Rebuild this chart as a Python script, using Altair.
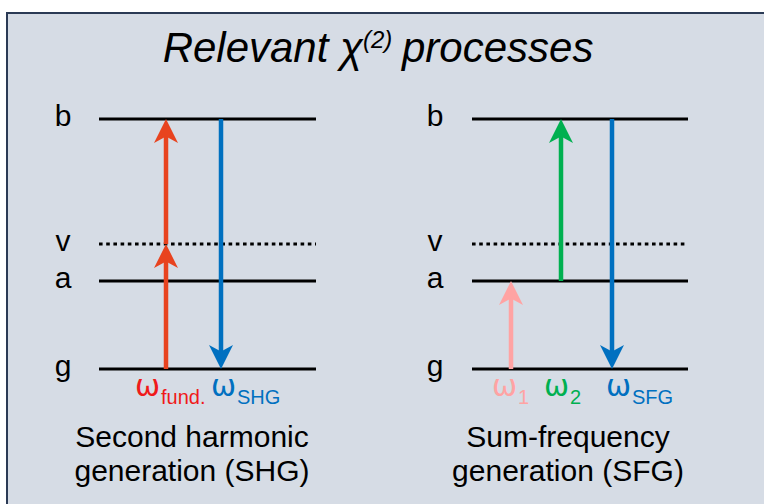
import altair as alt
import pandas as pd

# Energy levels, in units of the b level above g
level_names = ["g", "a", "v", "b"]
level_energy = [0.0, 0.352, 0.5, 1.0]
level_virtual = [False, False, True, False]

# Two diagrams side by side: extent of the level lines and label column
panel_names = ["SHG", "SFG"]
panel_left = [99, 472]
panel_right = [316, 688]
panel_label_x = [63, 435]
panel_center = [192, 568]
caption_line1 = ["Second harmonic", "Sum-frequency"]
caption_line2 = ["generation (SHG)", "generation (SFG)"]

# Optical transitions (arrows)
tr_x = [166, 166, 221, 511, 561, 612]
tr_from = ["g", "v", "b", "g", "a", "b"]
tr_to = ["v", "b", "g", "a", "b", "g"]
tr_color = ["#E8431F", "#E8431F", "#0070C0", "#FFA3A3", "#00B050", "#0070C0"]

# Frequency labels under the arrows: symbol + subscript
om_anchor = [161, 237, 518, 570, 632]
om_sub = ["fund.", "SHG", "1", "2", "SFG"]
om_color = ["#F01A1A", "#0070C0", "#FFA3A3", "#00B050", "#0070C0"]

E = dict(zip(level_names, level_energy))

levels = pd.DataFrame([
    {"panel": p, "x": l, "x2": r, "lx": lx, "name": n, "energy": e, "virtual": v}
    for p, l, r, lx in zip(panel_names, panel_left, panel_right, panel_label_x)
    for n, e, v in zip(level_names, level_energy, level_virtual)
])
trans = pd.DataFrame({
    "x": tr_x,
    "e0": [E[k] for k in tr_from],
    "e1": [E[k] for k in tr_to],
    "color": tr_color,
})
trans["dir"] = ["up" if b > a else "down" for a, b in zip(trans.e0, trans.e1)]
omegas = pd.DataFrame({"x": om_anchor, "sub": om_sub, "color": om_color, "energy": 0.0})
captions = pd.DataFrame({"x": panel_center, "l1": caption_line1, "l2": caption_line2})

W, H = 764, 504
xs = alt.Scale(domain=[0, W], nice=False, zero=False)
ys = alt.Scale(domain=[-0.54, 1.476], nice=False, zero=False)
FONT = "Liberation Sans"

X = lambda f: alt.X(f, type="quantitative", scale=xs, axis=None)
Y = lambda f: alt.Y(f, type="quantitative", scale=ys, axis=None)

frame = alt.Chart(pd.DataFrame({"k": [0]})).mark_rect(
    fill="#D6DCE5", stroke="#2B3A55", strokeWidth=2
).encode(x=alt.value(7), x2=alt.value(W + 20), y=alt.value(13), y2=alt.value(H + 20))

base_lv = alt.Chart(levels)
solid = base_lv.transform_filter("!datum.virtual").mark_rule(
    color="black", strokeWidth=3
).encode(x=X("x"), x2="x2", y=Y("energy"))
dotted = base_lv.transform_filter("datum.virtual").mark_rule(
    color="black", strokeWidth=3, strokeDash=[3.6, 3.6]
).encode(x=X("x"), x2="x2", y=Y("energy"))
lv_labels = base_lv.mark_text(
    font=FONT, fontSize=30, align="center", baseline="alphabetic", dy=7, color="black"
).encode(x=X("lx"), y=Y("energy"), text="name:N")

base_tr = alt.Chart(trans)
shaft_up = base_tr.transform_filter("datum.dir == 'up'").mark_rule(
    strokeWidth=4.5, y2Offset=12
).encode(x=X("x"), y=Y("e0"), y2="e1", color=alt.Color("color:N", scale=None))
shaft_dn = base_tr.transform_filter("datum.dir == 'down'").mark_rule(
    strokeWidth=4.5, y2Offset=-12
).encode(x=X("x"), y=Y("e0"), y2="e1", color=alt.Color("color:N", scale=None))
head_up = base_tr.transform_filter("datum.dir == 'up'").mark_point(
    shape="M0,0L1,2L0,1.45L-1,2Z", size=576, filled=True, opacity=1, strokeWidth=0
).encode(x=X("x"), y=Y("e1"), color=alt.Color("color:N", scale=None))
head_dn = base_tr.transform_filter("datum.dir == 'down'").mark_point(
    shape="M0,0L1,-2L0,-1.45L-1,-2Z", size=576, filled=True, opacity=1, strokeWidth=0
).encode(x=X("x"), y=Y("e1"), color=alt.Color("color:N", scale=None))

base_om = alt.Chart(omegas)
om_sym = base_om.mark_text(
    font="DejaVu Sans", fontSize=30, align="right", baseline="alphabetic", dy=27, dx=-1
).encode(x=X("x"), y=Y("energy"), text=alt.value("ω"), color=alt.Color("color:N", scale=None))
om_subs = base_om.mark_text(
    font=FONT, fontSize=20, align="left", baseline="alphabetic", dy=35
).encode(x=X("x"), y=Y("energy"), text="sub:N", color=alt.Color("color:N", scale=None))

base_cap = alt.Chart(captions)
cap1 = base_cap.mark_text(
    font=FONT, fontSize=30, align="center", baseline="alphabetic", color="black"
).encode(x=X("x"), y=alt.value(447), text="l1:N")
cap2 = base_cap.mark_text(
    font=FONT, fontSize=30, align="center", baseline="alphabetic", color="black"
).encode(x=X("x"), y=alt.value(481), text="l2:N")

title_df = pd.DataFrame({"k": [0]})
t_style = dict(font=FONT, fontStyle="italic", baseline="alphabetic", color="black")
title_a = alt.Chart(title_df).mark_text(fontSize=42, align="right", **t_style).encode(
    x=alt.value(363), y=alt.value(62), text=alt.value("Relevant χ"))
title_b = alt.Chart(title_df).mark_text(fontSize=24, align="left", **t_style).encode(
    x=alt.value(363), y=alt.value(48), text=alt.value("(2)"))
title_c = alt.Chart(title_df).mark_text(fontSize=42, align="left", **t_style).encode(
    x=alt.value(402), y=alt.value(62), text=alt.value("processes"))

chart = alt.layer(
    frame, solid, dotted, lv_labels,
    shaft_up, shaft_dn, head_up, head_dn,
    om_sym, om_subs, cap1, cap2,
    title_a, title_b, title_c,
).properties(
    width=W, height=H, padding=0, autosize=alt.AutoSizeParams(type="none"),
    background="white",
).configure_view(stroke=None)

chart.save("out.html", embed_options={"renderer": "svg", "actions": False})
